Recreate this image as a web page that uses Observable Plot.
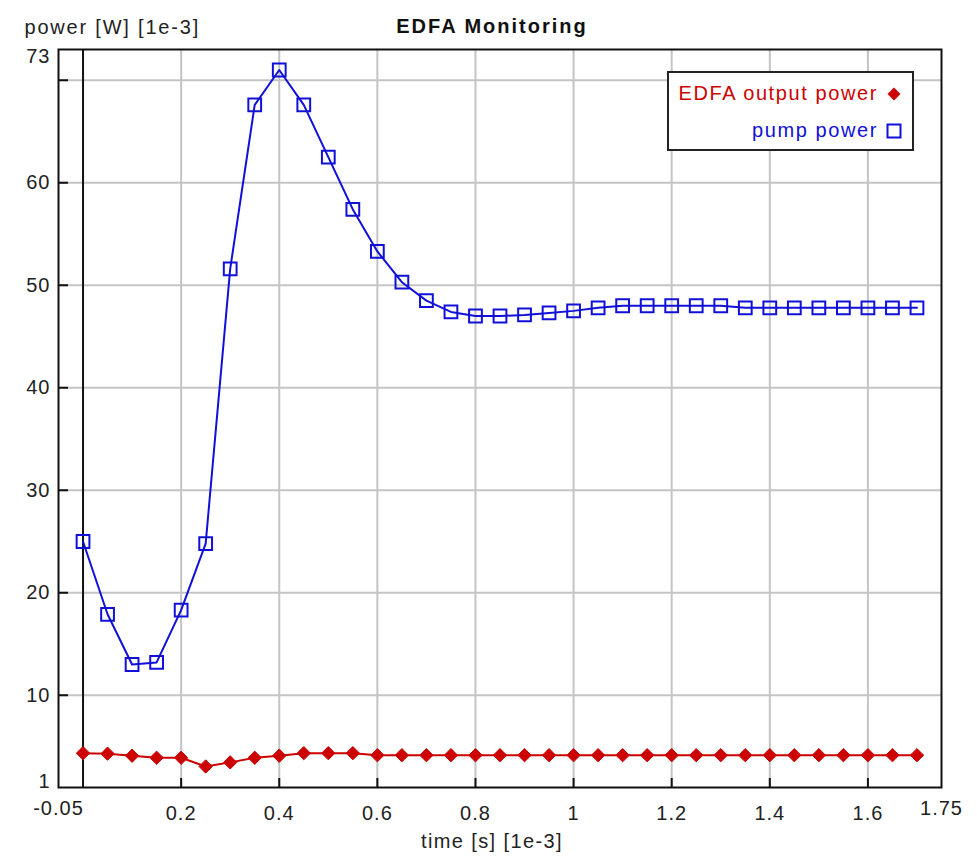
<!DOCTYPE html>
<html>
<head>
<meta charset="utf-8">
<script src="https://cdn.jsdelivr.net/npm/d3@7"></script>
<script src="https://cdn.jsdelivr.net/npm/@observablehq/plot@0.6"></script>
<style>
  html, body { margin: 0; padding: 0; background: #fff; }
  #wrap { position: relative; width: 977px; height: 860px; font-family: "Liberation Sans", Arial, sans-serif; }
  #wrap svg text { letter-spacing: 1px; }
  .legend { position: absolute; border: 2px solid #222; background: #fff; box-sizing: border-box; }
  .legend .row { position: absolute; display: flex; align-items: center; font-size: 20px; letter-spacing: 1.6px; white-space: nowrap; }
</style>
</head>
<body>
<div id="wrap"></div>
<script>
const title = "EDFA Monitoring";
const xLabel = "time [s] [1e-3]";
const yLabel = "power [W] [1e-3]";
const time = [0, 0.05, 0.1, 0.15, 0.2, 0.25, 0.3, 0.35, 0.4, 0.45, 0.5, 0.55, 0.6, 0.65, 0.7, 0.75, 0.8, 0.85, 0.9, 0.95, 1.0, 1.05, 1.1, 1.15, 1.2, 1.25, 1.3, 1.35, 1.4, 1.45, 1.5, 1.55, 1.6, 1.65, 1.7];
const pumpPower = [25.0, 17.9, 13.0, 13.2, 18.3, 24.8, 51.6, 67.6, 71.0, 67.6, 62.5, 57.4, 53.3, 50.3, 48.5, 47.4, 47.0, 47.0, 47.1, 47.3, 47.5, 47.8, 48.0, 48.0, 48.0, 48.0, 48.0, 47.8, 47.8, 47.8, 47.8, 47.8, 47.8, 47.8, 47.8];
const outputPower = [4.35, 4.3, 4.1, 3.9, 3.9, 3.05, 3.45, 3.9, 4.1, 4.35, 4.35, 4.35, 4.15, 4.15, 4.15, 4.15, 4.15, 4.15, 4.15, 4.15, 4.15, 4.15, 4.15, 4.15, 4.15, 4.15, 4.15, 4.15, 4.15, 4.15, 4.15, 4.15, 4.15, 4.15, 4.15];
const seriesNames = ["EDFA output power", "pump power"];
const seriesColors = ["#cc0000", "#1010d8"];
const xDomain = [-0.05, 1.75];
const yDomain = [1, 73];
const xTicks = [0.2, 0.4, 0.6, 0.8, 1.0, 1.2, 1.4, 1.6];
const xEndLabels = [-0.05, 1.75];
const yTicks = [10, 20, 30, 40, 50, 60, 70];
const yTickLabels = ["10", "20", "30", "40", "50", "60", ""];
const yMin = 1;
const yMax = 73;

const pumpData = time.map((t, i) => ({t, v: pumpPower[i]}));
const outData = time.map((t, i) => ({t, v: outputPower[i]}));

const plot = Plot.plot({
  width: 977,
  height: 860,
  marginLeft: 58,
  marginRight: 36,
  marginTop: 49,
  marginBottom: 73,
  style: {fontSize: "20px", fontFamily: "Liberation Sans, Arial, sans-serif", color: "#222", background: "#fff", overflow: "visible"},
  x: {domain: xDomain},
  y: {domain: yDomain},
  marks: [
    Plot.gridX(xTicks, {stroke: "#c4c4c4", strokeOpacity: 1, strokeWidth: 2}),
    Plot.gridY(yTicks, {stroke: "#c4c4c4", strokeOpacity: 1, strokeWidth: 2}),
    Plot.ruleX([0], {stroke: "#111", strokeWidth: 2}),
    Plot.axisX(xTicks, {anchor: "bottom", tickSize: -9, tickPadding: 27, strokeWidth: 2, stroke: "#111", label: null, tickFormat: d => String(d)}),
    Plot.axisY(yTicks, {anchor: "left", tickSize: -10, tickPadding: 18, strokeWidth: 2, stroke: "#111", label: null, tickFormat: d => yTickLabels[yTicks.indexOf(d)]}),
    Plot.text(xEndLabels, {x: d => d, frameAnchor: "bottom", dy: 27, text: d => String(d), fill: "#222"}),
    Plot.text([yMax], {y: d => d, frameAnchor: "left", dx: -8, dy: 7, textAnchor: "end", text: d => String(d), fill: "#222"}),
    Plot.text([yMin], {y: d => d, frameAnchor: "left", dx: -8, dy: -6, textAnchor: "end", text: d => String(d), fill: "#222"}),
    Plot.line(pumpData, {x: "t", y: "v", stroke: seriesColors[1], strokeWidth: 2}),
    Plot.dot(pumpData, {x: "t", y: "v", symbol: "square", r: 7.2, stroke: seriesColors[1], strokeWidth: 2, fill: "none"}),
    Plot.line(outData, {x: "t", y: "v", stroke: seriesColors[0], strokeWidth: 2}),
    Plot.dot(outData, {x: "t", y: "v", symbol: "diamond2", r: 6, fill: seriesColors[0], stroke: seriesColors[0], strokeWidth: 1}),
    Plot.frame({stroke: "#111", strokeWidth: 2}),
    Plot.text([title], {frameAnchor: "top", dx: -8, dy: -31, text: d => d, fontWeight: "bold", fill: "#111"}),
    Plot.text([xLabel], {frameAnchor: "bottom", dx: -8, dy: 60, text: d => d, fill: "#222"}),
    Plot.text([yLabel], {frameAnchor: "top-left", dx: -34, dy: -30, textAnchor: "start", text: d => d, fill: "#222"})
  ]
});
const wrap = document.getElementById("wrap");
wrap.appendChild(plot);

plot.querySelectorAll("text").forEach(t => {
  if (t.textContent === title) t.style.letterSpacing = "2px";
  if (t.textContent === xLabel) t.style.letterSpacing = "1.4px";
  if (t.textContent === yLabel) t.style.letterSpacing = "1.8px";
});

// legend
const legend = document.createElement("div");
legend.className = "legend";
Object.assign(legend.style, {left: "667px", top: "71px", width: "247px", height: "80px"});
const symbols = [
  '<svg width="16" height="16" style="margin-left:8px"><path d="M8,1.5L14.5,8L8,14.5L1.5,8Z" fill="' + seriesColors[0] + '"/></svg>',
  '<svg width="16" height="16" style="margin-left:8px"><rect x="1.5" y="1.5" width="13" height="13" fill="none" stroke="' + seriesColors[1] + '" stroke-width="2"/></svg>'
];
seriesNames.forEach((name, i) => {
  const row = document.createElement("div");
  row.className = "row";
  row.style.top = (i === 0 ? 9 : 46) + "px";
  row.style.right = "10px";
  row.style.color = seriesColors[i];
  row.innerHTML = '<span>' + name + '</span>' + symbols[i];
  legend.appendChild(row);
});
wrap.appendChild(legend);
</script>
</body>
</html>
